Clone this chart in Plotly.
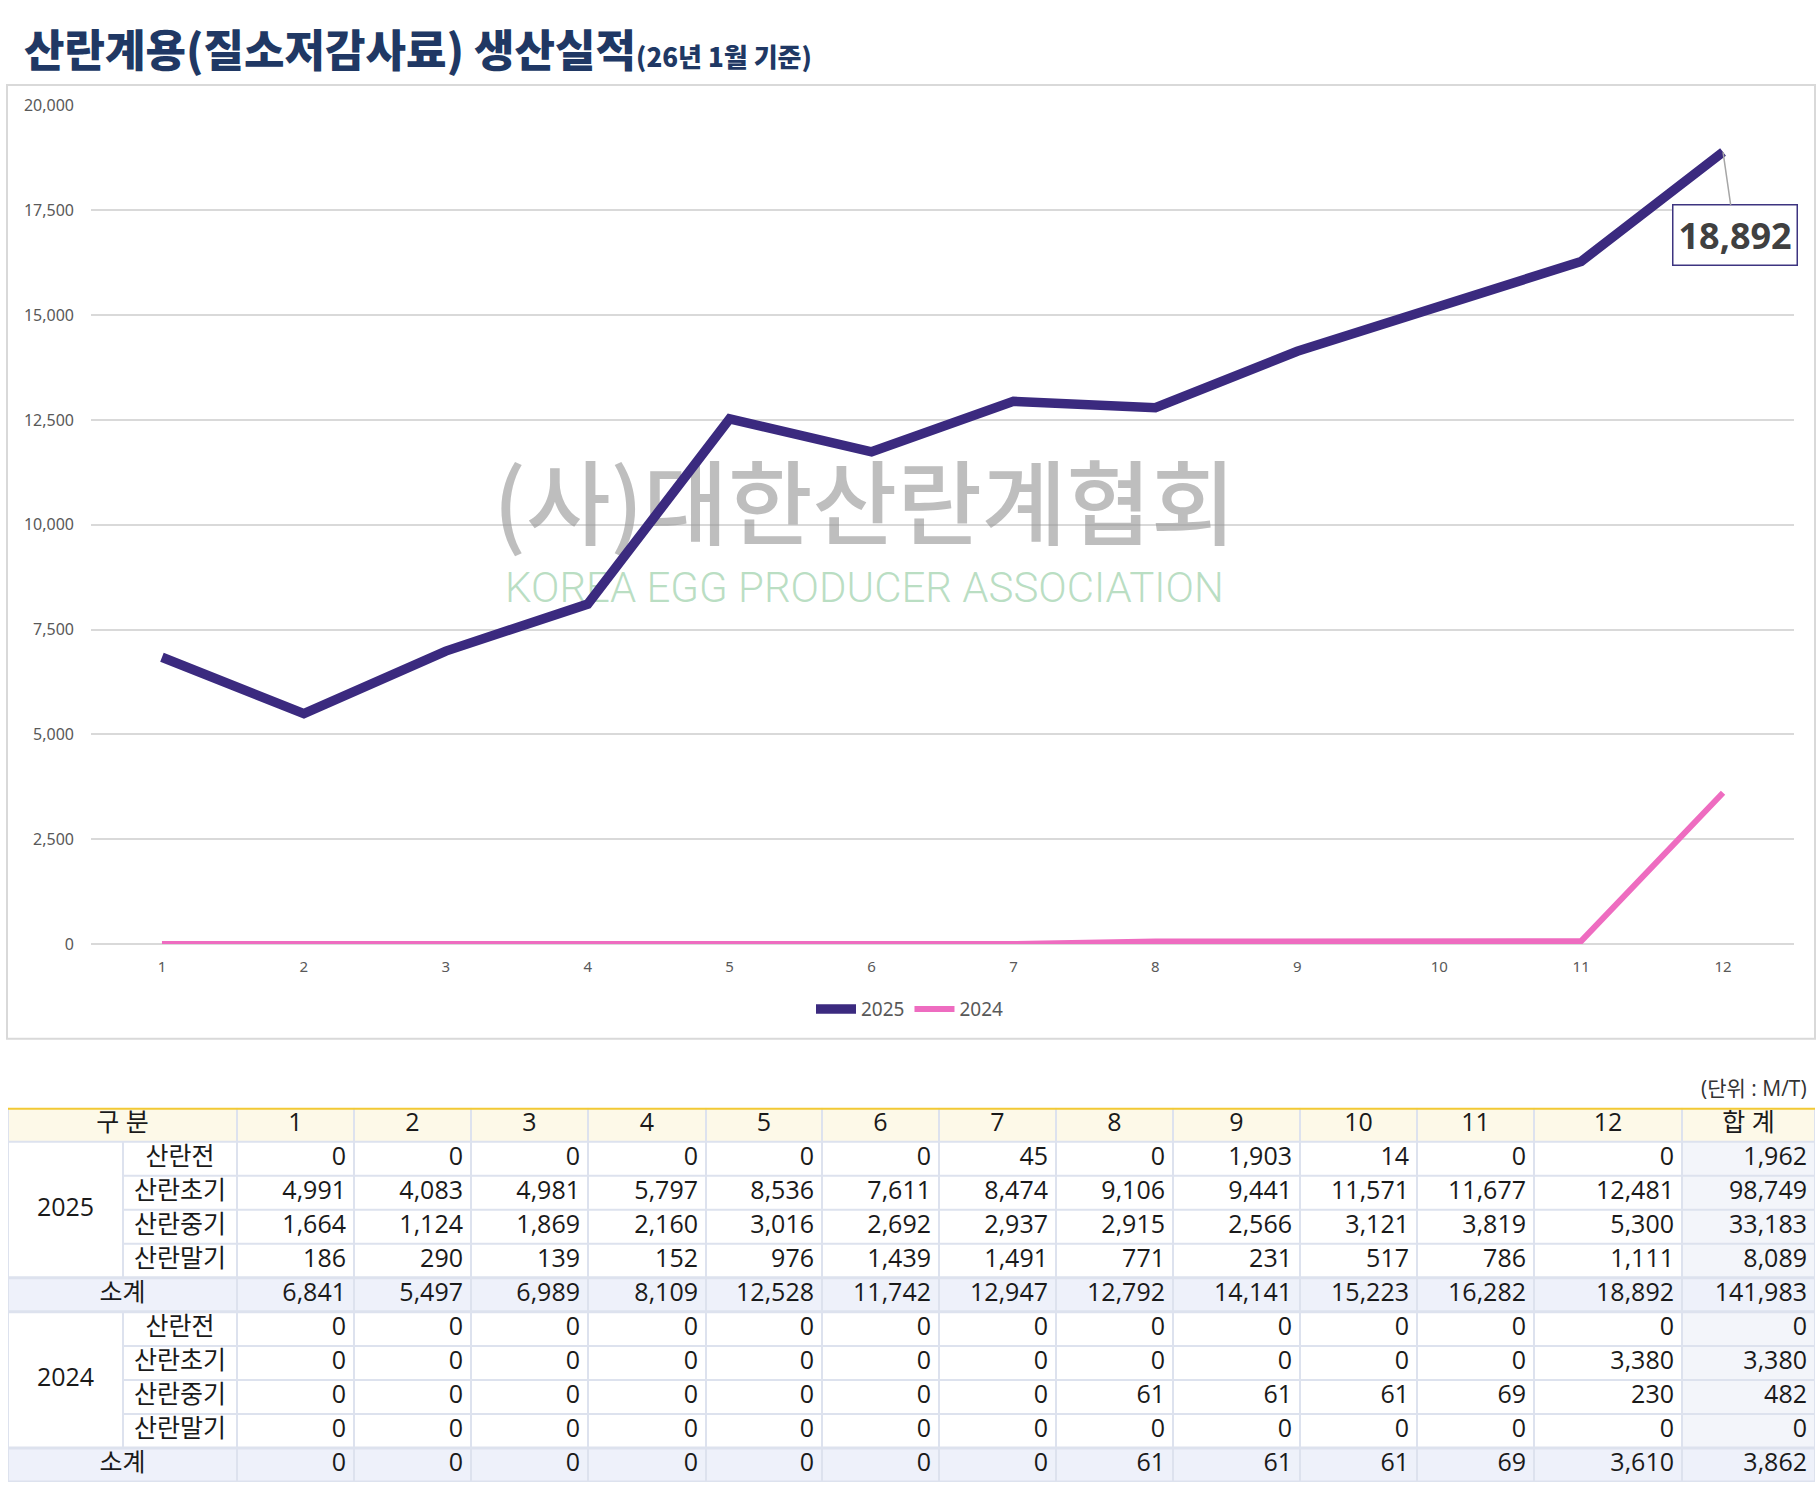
import plotly.graph_objects as go

# ---------------- data ----------------
months = [1, 2, 3, 4, 5, 6, 7, 8, 9, 10, 11, 12]
month_labels = ["1", "2", "3", "4", "5", "6", "7", "8", "9", "10", "11", "12"]
categories = ["산란전", "산란초기", "산란중기", "산란말기"]

pre_2025 = [0, 0, 0, 0, 0, 0, 45, 0, 1903, 14, 0, 0]
early_2025 = [4991, 4083, 4981, 5797, 8536, 7611, 8474, 9106, 9441, 11571, 11677, 12481]
mid_2025 = [1664, 1124, 1869, 2160, 3016, 2692, 2937, 2915, 2566, 3121, 3819, 5300]
late_2025 = [186, 290, 139, 152, 976, 1439, 1491, 771, 231, 517, 786, 1111]
sub_2025 = [6841, 5497, 6989, 8109, 12528, 11742, 12947, 12792, 14141, 15223, 16282, 18892]
tot_2025 = [1962, 98749, 33183, 8089, 141983]

pre_2024 = [0, 0, 0, 0, 0, 0, 0, 0, 0, 0, 0, 0]
early_2024 = [0, 0, 0, 0, 0, 0, 0, 0, 0, 0, 0, 3380]
mid_2024 = [0, 0, 0, 0, 0, 0, 0, 61, 61, 61, 69, 230]
late_2024 = [0, 0, 0, 0, 0, 0, 0, 0, 0, 0, 0, 0]
sub_2024 = [0, 0, 0, 0, 0, 0, 0, 61, 61, 61, 69, 3610]
tot_2024 = [0, 3380, 482, 0, 3862]

y_ticks = [0, 2500, 5000, 7500, 10000, 12500, 15000, 17500, 20000]

title_main = "산란계용(질소저감사료) 생산실적"
title_sub = "(26년 1월 기준)"
unit_text = "(단위 : M/T)"
wm_kr = "(사)대한산란계협회"
wm_en = "KOREA EGG PRODUCER ASSOCIATION"

# ---------------- layout helpers ----------------
W, H = 1820, 1497
def px(x):
    return x / W
def py(y):
    return 1 - y / H

C25 = "#3b2a7f"
C24 = "#ee6cc0"
GRID = "#d9d9d9"
TICK = "#595959"

fig = go.Figure()

# watermark (drawn first so lines sit above it)
fig.add_trace(go.Scatter(
    x=[5.95, 5.95], y=[10230, 8420], mode="text",
    text=[wm_kr, wm_en],
    textfont=dict(size=[92, 42], color=["rgba(150,150,150,0.62)", "rgba(140,200,155,0.6)"],
                  family=["Noto Sans CJK KR", "Roboto"], weight=[500, 300]),
    showlegend=False, hoverinfo="skip", cliponaxis=False,
))

fig.add_trace(go.Scatter(
    x=months, y=sub_2025, mode="lines", name="2025",
    line=dict(color=C25, width=9.5), hoverinfo="skip",
))
fig.add_trace(go.Scatter(
    x=months, y=sub_2024, mode="lines", name="2024",
    line=dict(color=C24, width=6), hoverinfo="skip",
))

# data label for last point of 2025
fig.add_annotation(
    x=months[-1], y=sub_2025[-1], xref="x", yref="y",
    text=f"{sub_2025[-1]:,}", showarrow=True, arrowhead=0,
    arrowcolor="#a6a6a6", arrowwidth=1.5, ax=12, ay=83,
    font=dict(family="Open Sans", size=36, color="#404040", weight=700),
    bordercolor="#3d3480", borderwidth=1.5, borderpad=5, bgcolor="white",
)

# chart border
fig.add_shape(type="rect", xref="paper", yref="paper",
              x0=px(7), x1=px(1815), y0=py(1043), y1=py(75),
              line=dict(color="#d9d9d9", width=2), fillcolor="rgba(0,0,0,0)", layer="below")

# title
fig.add_annotation(
    xref="paper", yref="paper", x=px(22), y=py(38), xanchor="left", yanchor="middle",
    text=f"{title_main}<span style='font-size:26px'>{title_sub}</span>",
    showarrow=False,
    font=dict(family="Noto Sans CJK KR", size=44, color="#203864", weight=900),
)

# unit
fig.add_annotation(
    xref="paper", yref="paper", x=px(1809), y=py(1093), xanchor="right", yanchor="middle",
    text=unit_text, showarrow=False,
    font=dict(family="Open Sans, Noto Sans CJK KR", size=21, color="#333333"),
)

# ---------------- table ----------------
COL_EDGES = [8, 123, 237, 354, 471, 588, 706, 822, 939, 1056, 1173, 1300, 1417, 1534, 1682, 1815]
N_ROWS = 11
PAD = 8
LINE_C = "#dde2ee"

def tshape(**kw):
    d = dict(xref="x2", yref="y2", layer="below")
    d.update(kw)
    fig.add_shape(**d)

# backgrounds
tshape(type="rect", x0=COL_EDGES[0], x1=COL_EDGES[-1], y0=0, y1=1,
       fillcolor="#fdf9e8", line=dict(width=0))
for r in (5, 10):
    tshape(type="rect", x0=COL_EDGES[0], x1=COL_EDGES[-1], y0=r, y1=r + 1,
           fillcolor="#eef1fa", line=dict(width=0))
for r0 in (1, 6):
    tshape(type="rect", x0=COL_EDGES[-2], x1=COL_EDGES[-1], y0=r0, y1=r0 + 4,
           fillcolor="#f3f5fa", line=dict(width=0))

# horizontal lines
for y in range(1, N_ROWS + 1):
    x0 = COL_EDGES[1] if y in (2, 3, 4, 7, 8, 9) else COL_EDGES[0]
    w = 3 if y in (5, 6, 10, 11) else 2
    tshape(type="line", x0=x0, x1=COL_EDGES[-1], y0=y, y1=y, line=dict(color=LINE_C, width=w))
# vertical lines
for e in COL_EDGES:
    if e == COL_EDGES[1]:
        for a, b in ((1, 5), (6, 10)):
            tshape(type="line", x0=e, x1=e, y0=a, y1=b, line=dict(color=LINE_C, width=2))
    else:
        tshape(type="line", x0=e, x1=e, y0=0, y1=N_ROWS, line=dict(color=LINE_C, width=2))
# top yellow rule
tshape(type="line", x0=COL_EDGES[0], x1=COL_EDGES[-1], y0=0, y1=0,
       line=dict(color="#f2c935", width=4), layer="above")

TFONT = "Open Sans, Noto Sans CJK KR"
TCOL = "#1a1a1a"
TSIZE = 25

# header texts
hx = [(COL_EDGES[0] + COL_EDGES[2]) / 2]
ht = ["구 분"]
for i in range(12):
    hx.append((COL_EDGES[i + 2] + COL_EDGES[i + 3]) / 2)
    ht.append(month_labels[i])
hx.append((COL_EDGES[-2] + COL_EDGES[-1]) / 2)
ht.append("합 계")

# label texts (centered)
lx, ly, lt = [], [], []
for base, year in ((1, "2025"), (6, "2024")):
    lx.append((COL_EDGES[0] + COL_EDGES[1]) / 2); ly.append(base + 2); lt.append(year)
    for k, c in enumerate(categories):
        lx.append((COL_EDGES[1] + COL_EDGES[2]) / 2); ly.append(base + k + 0.5); lt.append(c)
    lx.append((COL_EDGES[0] + COL_EDGES[2]) / 2); ly.append(base + 4.5); lt.append("소계")

# numeric texts (right aligned)
nx, ny, nt = [], [], []
blocks = [
    (1, [pre_2025, early_2025, mid_2025, late_2025, sub_2025], tot_2025),
    (6, [pre_2024, early_2024, mid_2024, late_2024, sub_2024], tot_2024),
]
for base, series, tots in blocks:
    for k, s in enumerate(series):
        for i, v in enumerate(s):
            nx.append(COL_EDGES[i + 3] - PAD); ny.append(base + k + 0.5); nt.append(f"{v:,}")
        nx.append(COL_EDGES[-1] - PAD); ny.append(base + k + 0.5); nt.append(f"{tots[k]:,}")

fig.add_trace(go.Scatter(x=hx, y=[0.5] * len(hx), text=ht, mode="text", xaxis="x2", yaxis="y2",
                         textposition="middle center", showlegend=False, hoverinfo="skip",
                         textfont=dict(family=TFONT, size=TSIZE, color=TCOL), cliponaxis=False))
fig.add_trace(go.Scatter(x=lx, y=ly, text=lt, mode="text", xaxis="x2", yaxis="y2",
                         textposition="middle center", showlegend=False, hoverinfo="skip",
                         textfont=dict(family=TFONT, size=TSIZE, color=TCOL), cliponaxis=False))
fig.add_trace(go.Scatter(x=nx, y=ny, text=nt, mode="text", xaxis="x2", yaxis="y2",
                         textposition="middle left", showlegend=False, hoverinfo="skip",
                         textfont=dict(family=TFONT, size=TSIZE, color=TCOL), cliponaxis=False))

# ---------------- axes / layout ----------------
fig.update_layout(
    width=W, height=H,
    margin=dict(l=0, r=0, t=0, b=0),
    paper_bgcolor="white", plot_bgcolor="rgba(0,0,0,0)",
    showlegend=True,
    legend=dict(orientation="h", x=0.5, xanchor="center", y=py(1013), yanchor="middle",
                font=dict(family="Noto Sans", size=19, color=TICK), itemwidth=40,
                bgcolor="rgba(0,0,0,0)"),
    xaxis=dict(domain=[px(91), px(1794)], range=[0.5, 12.5], tickvals=months, ticktext=month_labels,
               showgrid=False, zeroline=False, showline=False, ticks="",
               tickfont=dict(family="Noto Sans", size=15, color=TICK), ticklabelstandoff=12,
               fixedrange=True),
    yaxis=dict(domain=[py(947), py(96)], range=[0, 20000], tickvals=y_ticks,
               tickformat=",d", showgrid=True, gridcolor=GRID, gridwidth=1.5,
               zeroline=True, zerolinecolor=GRID, zerolinewidth=1.5, showline=False, ticks="",
               tickfont=dict(family="Noto Sans", size=16, color=TICK), ticklabelstandoff=16,
               fixedrange=True),
    xaxis2=dict(domain=[px(COL_EDGES[0]), px(COL_EDGES[-1])], range=[COL_EDGES[0], COL_EDGES[-1]],
                visible=False, anchor="y2", fixedrange=True),
    yaxis2=dict(domain=[py(1493), py(1113)], range=[N_ROWS, 0], visible=False, anchor="x2",
                fixedrange=True),
    font=dict(family="Noto Sans, Noto Sans CJK KR"),
)

fig.write_html(
    "out.html",
    config={"displayModeBar": False},
    post_script="document.body.style.margin='0px';document.body.style.overflow='hidden';",
)
